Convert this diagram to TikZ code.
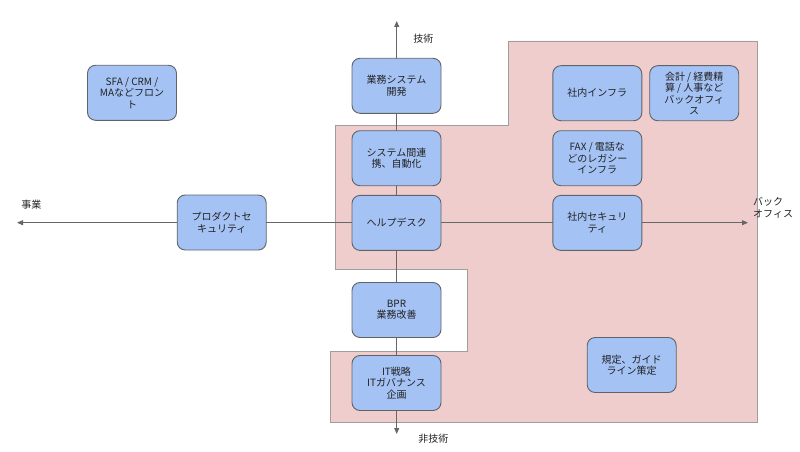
\documentclass[tikz,border=0pt]{standalone}
\usepackage{fontspec}
\setmainfont{Noto Sans CJK JP}
\usetikzlibrary{arrows.meta}
\definecolor{boxfill}{HTML}{A4C2F4}
\definecolor{boxline}{HTML}{5F6368}
\definecolor{zone}{HTML}{EFCDCD}
\definecolor{zoneline}{HTML}{9E9E9E}
\definecolor{axis}{HTML}{666666}
\definecolor{txt}{HTML}{222222}
\begin{document}
\begin{tikzpicture}[x=1pt,y=-1pt,
  card/.style={draw=boxline,line width=0.9pt,fill=boxfill,rounded corners=8pt,
    minimum width=89pt,minimum height=55pt,inner sep=0pt,align=center,
    text=txt,font=\fontsize{10}{11.5}\selectfont},
  lbl/.style={text=txt,font=\fontsize{10}{11.5}\selectfont,inner sep=0pt},
  ax/.style={draw=axis,line width=0.9pt,{Triangle[length=6pt,width=5pt]}-{Triangle[length=6pt,width=5pt]}}]
\useasboundingbox (0,0) rectangle (800,452);
% pink zone
\fill[zone,draw=zoneline,line width=0.8pt]
  (508.3,41) -- (757.7,41) -- (757.7,422.3) -- (330.7,422.3) -- (330.7,351.7)
  -- (467.3,351.7) -- (467.3,269.3) -- (335.7,269.3) -- (335.7,125.3) -- (508.3,125.3) -- cycle;
% axis end points
\coordinate (top) at (396.7,21);
\coordinate (bot) at (396.7,434);
\coordinate (left) at (17,222.7);
\coordinate (right) at (748,222.7);
\draw[ax] (bot) -- (top);
\draw[ax] (left) -- (right);
% boxes
\node[card] (kaihatsu) at (396.5,85.8) {業務システム\\開発};
\node[card] (renkei) at (396.5,158.2) {システム間連\\携、自動化};
\node[card] (help) at (396.5,222.9) {ヘルプデスク};
\node[card] (bpr) at (396.5,310) {BPR\\業務改善};
\node[card] (senryaku) at (396.5,383) {IT戦略\\ITガバナンス\\企画};
\node[card] (infra) at (597.3,93.2) {社内インフラ};
\node[card] (kaikei) at (694.2,93.2) {会計 / 経費精\\算 / 人事など\\バックオフィ\\ス};
\node[card] (fax) at (597.3,158.2) {FAX / 電話な\\どのレガシー\\インフラ};
\node[card] (sec) at (597.3,222.9) {社内セキュリ\\ティ};
\node[card] (kitei) at (631.7,365) {規定、ガイド\\ライン策定};
\node[card] (sfa) at (132,92.8) {SFA / CRM /\\MAなどフロン\\ト};
\node[card] (prodsec) at (221.7,222.5) {プロダクトセ\\キュリティ};
% axis labels
\node[lbl] (gijutsu) at (423.3,39) {技術};
\node[lbl] (higijutsu) at (433.3,439) {非技術};
\node[lbl] (jigyo) at (31.3,205) {事業};
\node[lbl,anchor=west,align=left] (back) at (753,208) {バック\\オフィス};
\end{tikzpicture}
\end{document}
